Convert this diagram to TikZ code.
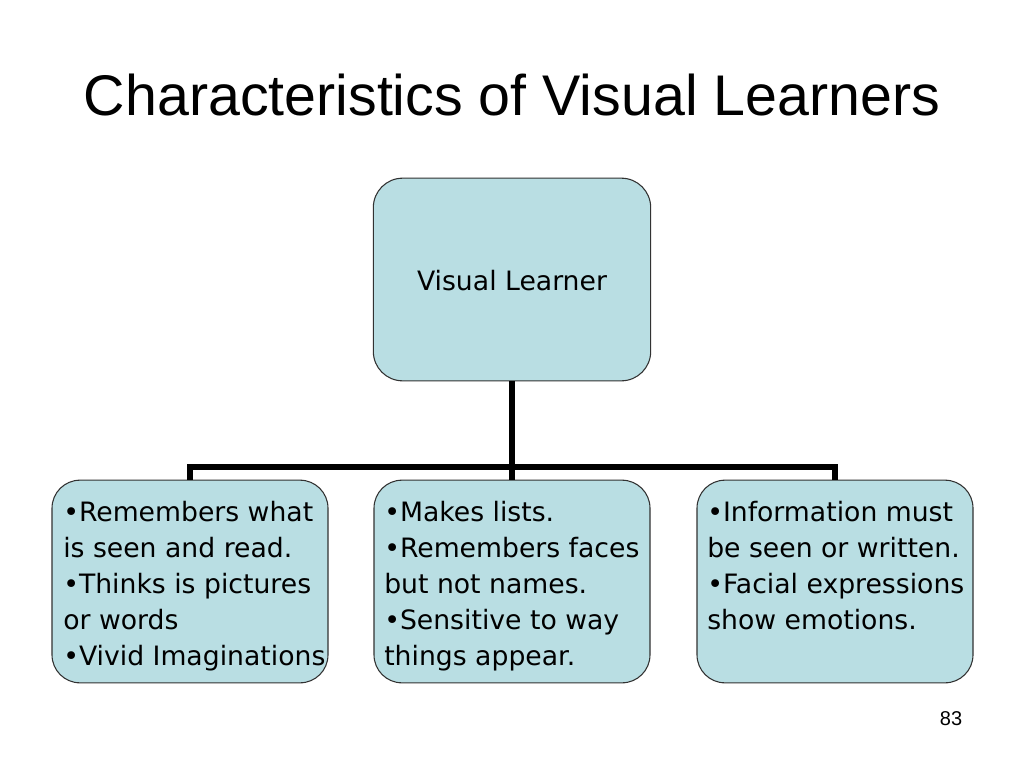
\documentclass[tikz,border=0pt]{standalone}
\usepackage{fontspec}
\setmainfont{Liberation Sans}
\newfontfamily\boxfont{DejaVu Sans}
\definecolor{boxfill}{RGB}{185,222,227}
\definecolor{boxline}{RGB}{50,50,50}
\begin{document}
\begin{tikzpicture}[x=0.75pt,y=-0.75pt,
  card/.style={draw=boxline,line width=0.8pt,fill=boxfill,rounded corners=21pt,
    minimum width=207pt,minimum height=152pt,inner sep=0pt},
  cardtext/.style={anchor=north west,inner sep=0pt,align=left,
    font=\boxfont\fontsize{20}{27}\selectfont},
  bus/.style={line width=4.5pt,black,line join=miter}]
\useasboundingbox (0,0) rectangle (1024,768);
\fill[white] (0,0) rectangle (1024,768);
\node[anchor=base,inner sep=0pt,font=\fontsize{43}{50}\selectfont] (title) at (512,115) {Characteristics of Visual Learners};
\node[card,minimum width=208pt,rounded corners=22pt] (top) at (512,279.5) {};
\node[card] (b1) at (190,581.5) {};
\node[card] (b2) at (512,581.5) {};
\node[card] (b3) at (835,581.5) {};
\node[inner sep=0pt,font=\boxfont\fontsize{20}{27}\selectfont,anchor=base] (toptext) at (512,290) {Visual Learner};
\node[cardtext] (t1) at (63,501) {•Remembers what\\is seen and read.\\•Thinks is pictures\\or words\\•Vivid Imaginations};
\node[cardtext] (t2) at (384,501) {•Makes lists.\\•Remembers faces\\but not names.\\•Sensitive to way\\things appear.};
\node[cardtext] (t3) at (707,501) {•Information must\\be seen or written.\\•Facial expressions\\show emotions.};
\coordinate (hub) at (512,467);
\draw[bus] (top.south) -- (b2.north);
\draw[bus] (b1.north) |- (hub) -| (b3.north);
\node[anchor=base,inner sep=0pt,font=\fontsize{15}{18}\selectfont] (page) at (951,725) {83};
\end{tikzpicture}
\end{document}
